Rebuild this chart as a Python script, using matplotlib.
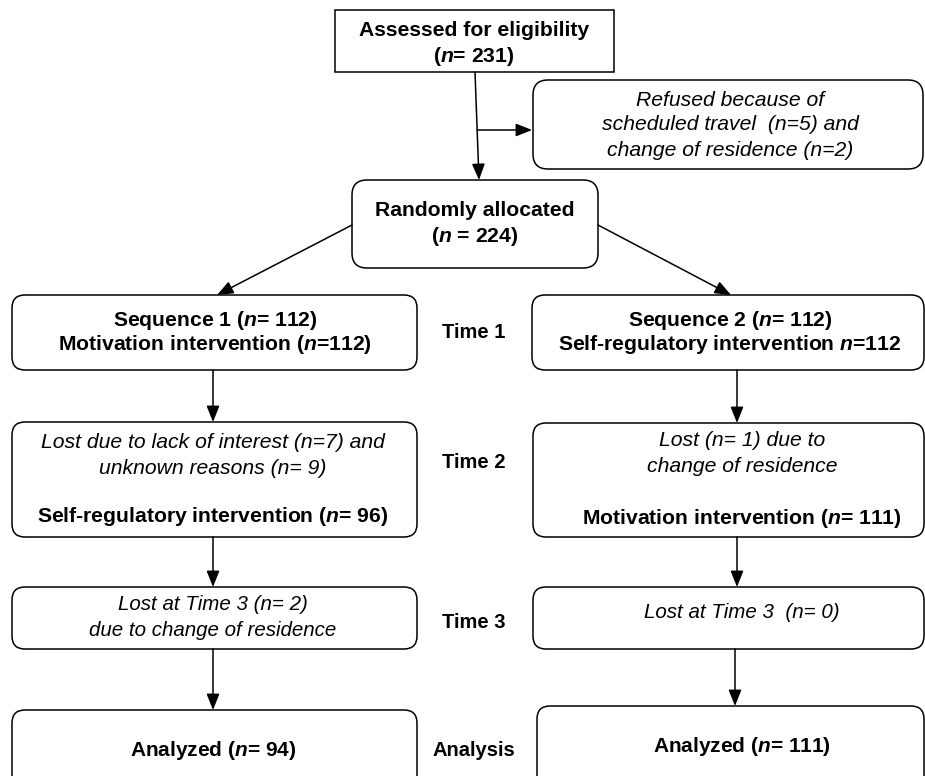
import matplotlib
matplotlib.use("Agg")
import matplotlib.pyplot as plt
from matplotlib.patches import FancyBboxPatch, Rectangle, FancyArrowPatch

plt.rcParams['font.family'] = ['Liberation Sans', 'DejaVu Sans']
plt.rcParams['mathtext.fontset'] = 'custom'
plt.rcParams['mathtext.rm'] = 'Liberation Sans'
plt.rcParams['mathtext.it'] = 'Liberation Sans:italic'
plt.rcParams['mathtext.bf'] = 'Liberation Sans:bold'
plt.rcParams['mathtext.bfit'] = 'Liberation Sans:bold:italic'

# Data
n_assessed = 231
n_refused_travel = 5
n_refused_residence = 2
n_random = 224
n_seq = [112, 112]
n_lost_t2_left = [7, 9]
n_lost_t2_right = 1
n_t2 = [96, 111]
n_lost_t3 = [2, 0]
n_analyzed = [94, 111]
stage_labels = ["Time 1", "Time 2", "Time 3", "Analysis"]

W, H = 925, 776
fig = plt.figure(figsize=(W / 100, H / 100), dpi=100)
ax = fig.add_axes([0, 0, 1, 1])
ax.set_xlim(0, W)
ax.set_ylim(H, 0)
ax.axis('off')

NB = r'$\mathbfit{n}$'
FS = 15.2


def rbox(x0, y0, x1, y1, rounded=True, r=13):
    if rounded:
        p = FancyBboxPatch((x0, y0), x1 - x0, y1 - y0,
                           boxstyle=f"round,pad=0,rounding_size={r}",
                           fc='white', ec='black', lw=1.1)
    else:
        p = Rectangle((x0, y0), x1 - x0, y1 - y0, fc='white', ec='black', lw=1.1)
    ax.add_patch(p)


def txt(x, y, s, bold=False, italic=False, size=FS):
    ax.text(x, y, s, ha='center', va='center', fontsize=size,
            fontweight='bold' if bold else 'normal',
            fontstyle='italic' if italic else 'normal')


def arrow(x0, y0, x1, y1):
    a = FancyArrowPatch((x0, y0), (x1, y1),
                        arrowstyle='-|>,head_length=0.7,head_width=0.28',
                        mutation_scale=14, color='black', lw=1.1,
                        shrinkA=0, shrinkB=0)
    ax.add_patch(a)


# Boxes
rbox(335, 10, 614, 72, rounded=False)
rbox(533, 80, 923, 169, r=15)
rbox(352, 180, 598, 268, r=15)
rbox(12, 295, 417, 370)
rbox(532, 295, 924, 370)
rbox(12, 422, 417, 537)
rbox(533, 423, 924, 537)
rbox(12, 587, 417, 649)
rbox(533, 587, 924, 649)
rbox(12, 710, 417, 800)
rbox(537, 706, 924, 800)

# Arrows
arrow(475, 72, 479, 180)
arrow(477, 130, 532, 130)
arrow(352, 225, 217, 295)
arrow(598, 225, 731, 295)
arrow(213, 370, 213, 422)
arrow(737, 370, 737, 423)
arrow(213, 537, 213, 587)
arrow(737, 537, 737, 587)
arrow(213, 649, 213, 710)
arrow(735, 649, 735, 706)

# Texts
txt(474, 30, "Assessed for eligibility", bold=True)
txt(474, 57, "(" + NB + f"= {n_assessed})", bold=True)

txt(730, 100, "Refused because of", italic=True)
txt(730, 125, f"scheduled travel  (n={n_refused_travel}) and", italic=True)
txt(730, 150, f"change of residence (n={n_refused_residence})", italic=True)

txt(475, 210, "Randomly allocated", bold=True)
txt(475, 237, "(" + NB + f" = {n_random})", bold=True)

txt(215, 321, "Sequence 1 (" + NB + f"= {n_seq[0]})", bold=True)
txt(215, 344, "Motivation intervention (" + NB + f"={n_seq[0]})", bold=True)
txt(730, 321, "Sequence 2 (" + NB + f"= {n_seq[1]})", bold=True)
txt(730, 344, "Self-regulatory intervention " + NB + f"={n_seq[1]}", bold=True)

txt(213, 442, f"Lost due to lack of interest (n={n_lost_t2_left[0]}) and", italic=True)
txt(213, 468, f"unknown reasons (n= {n_lost_t2_left[1]})", italic=True)
txt(213, 517, "Self-regulatory intervention (" + NB + f"= {n_t2[0]})", bold=True)

txt(742, 441, f"Lost (n= {n_lost_t2_right}) due to", italic=True)
txt(742, 467, "change of residence", italic=True)
txt(742, 518, "Motivation intervention (" + NB + f"= {n_t2[1]})", bold=True)

txt(213, 605, f"Lost at Time 3 (n= {n_lost_t3[0]})", italic=True, size=14.8)
txt(213, 630, "due to change of residence", italic=True, size=14.8)
txt(742, 613, f"Lost at Time 3  (n= {n_lost_t3[1]})", italic=True, size=14.8)

txt(213, 750, "Analyzed (" + NB + f"= {n_analyzed[0]})", bold=True, size=15)
txt(742, 747, "Analyzed (" + NB + f"= {n_analyzed[1]})", bold=True, size=15)

stage_y = [333, 463, 622, 750]
for lab, y in zip(stage_labels, stage_y):
    txt(474, y, lab, bold=True, size=14.5)

fig.savefig("out.png", dpi=100)
